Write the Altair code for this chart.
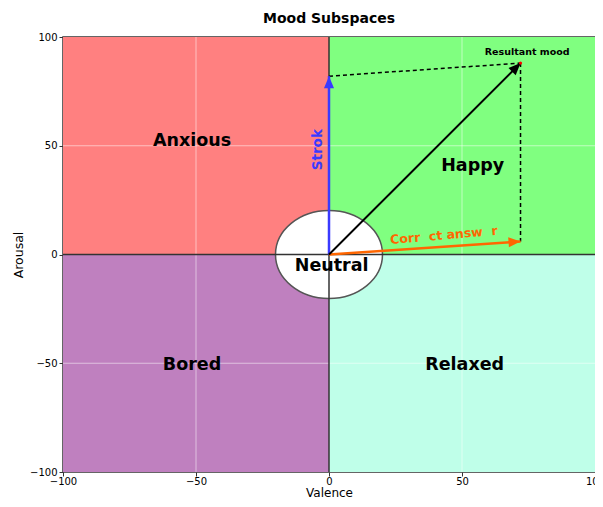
import altair as alt
import pandas as pd

# Quadrants
quad_names = ["Anxious", "Happy", "Bored", "Relaxed"]
quad_x = [-100, 0, -100, 0]
quad_x2 = [0, 100, 0, 100]
quad_y = [0, 0, -100, -100]
quad_y2 = [100, 100, 0, 0]
quad_colors = ["#ff8080", "#80ff80", "#bf80bf", "#bfffe9"]

# Labels
label_text = ["Anxious", "Happy", "Bored", "Relaxed", "Neutral"]
label_x = [-51.5, 54, -51.5, 51, 1]
label_y = [52, 40.5, -51, -51, -5.5]

# Vectors
vec_names = ["Strok", "Correct answer", "Resultant"]
vec_x2 = [0, 72, 72]
vec_y2 = [82, 6, 88]
vec_colors = ["#3a3aff", "#ff6600", "#000000"]
vec_widths = [2.5, 2.5, 2]
vec_angles = [0, 86, 44.7]

# Dashed guides
dash_x = [0, 72]
dash_y = [82, 88]
dash_x2 = [72, 72]
dash_y2 = [88, 6]

grid_vals = [-50, 50]

X = alt.Scale(domain=[-100, 100], nice=False, zero=False)
Y = alt.Scale(domain=[-100, 100], nice=False, zero=False)

lab_expr = "replace(datum.label, '-', '\u2212')"
xaxis = alt.Axis(values=[-100, -50, 0, 50, 100], grid=False, domain=False, labelExpr=lab_expr,
                 tickColor="#333", tickSize=4, labelColor="#000", labelFontSize=10,
                 labelFont="DejaVu Sans", titleFont="DejaVu Sans", titleFontSize=12,
                 titleFontWeight="normal", titleColor="#000", labelPadding=0,
                 titleBaseline="alphabetic", titleY=24, labelFlush=False)
yaxis = alt.Axis(values=[-100, -50, 0, 50, 100], grid=False, domain=False, labelExpr=lab_expr,
                 tickColor="#333", tickSize=4, labelColor="#000", labelFontSize=10,
                 labelFont="DejaVu Sans", titleFont="DejaVu Sans", titleFontSize=12.5,
                 titleFontWeight="normal", titleColor="#000", labelPadding=2,
                 titleBaseline="alphabetic", titleX=-41, labelFlush=False)

qdf = pd.DataFrame({"name": quad_names, "x": quad_x, "x2": quad_x2, "y": quad_y,
                    "y2": quad_y2, "c": quad_colors})
quads = alt.Chart(qdf).mark_rect(strokeWidth=0).encode(
    x=alt.X("x:Q", scale=X, axis=xaxis, title="Valence"),
    x2="x2:Q",
    y=alt.Y("y:Q", scale=Y, axis=yaxis, title="Arousal"),
    y2="y2:Q",
    color=alt.Color("c:N", scale=None),
)

gdf = pd.DataFrame({"v": grid_vals})
gridx = alt.Chart(gdf).mark_rule(color="white", opacity=0.5, strokeWidth=1).encode(
    x=alt.X("v:Q", scale=X))
gridy = alt.Chart(gdf).mark_rule(color="white", opacity=0.5, strokeWidth=1).encode(
    y=alt.Y("v:Q", scale=Y))

ell = alt.Chart(pd.DataFrame({"x": [0], "y": [0]})).mark_point(
    shape="M-1,0A1,0.822,0,1,0,1,0A1,0.822,0,1,0,-1,0Z",
    size=11449, filled=True, fill="white", stroke="#555", strokeWidth=1.5, opacity=1,
).encode(x=alt.X("x:Q", scale=X), y=alt.Y("y:Q", scale=Y))

center = pd.DataFrame({"x": [0, -100], "x2": [0, 100], "y": [-100, 0], "y2": [100, 0]})
centers = alt.Chart(center).mark_rule(color="#333", strokeWidth=1.5).encode(
    x=alt.X("x:Q", scale=X), x2="x2:Q", y=alt.Y("y:Q", scale=Y), y2="y2:Q")

ddf = pd.DataFrame({"x": dash_x, "y": dash_y, "x2": dash_x2, "y2": dash_y2})
dashes = alt.Chart(ddf).mark_rule(color="black", strokeWidth=1.5, strokeDash=[4, 3]).encode(
    x=alt.X("x:Q", scale=X), x2="x2:Q", y=alt.Y("y:Q", scale=Y), y2="y2:Q")

vdf = pd.DataFrame({"name": vec_names, "x": [0, 0, 0], "y": [0, 0, 0], "x2": vec_x2,
                    "y2": vec_y2, "c": vec_colors, "a": vec_angles, "w": vec_widths})
vecs = alt.Chart(vdf).mark_rule().encode(
    x=alt.X("x:Q", scale=X), x2="x2:Q", y=alt.Y("y:Q", scale=Y), y2="y2:Q",
    color=alt.Color("c:N", scale=None),
    strokeWidth=alt.StrokeWidth("w:Q", scale=None))
heads = alt.Chart(vdf).mark_point(
    shape="M0,0L-0.42,1L0.42,1Z", size=576, filled=True, opacity=1, strokeWidth=0
).encode(
    x=alt.X("x2:Q", scale=X), y=alt.Y("y2:Q", scale=Y),
    color=alt.Color("c:N", scale=None), angle=alt.Angle("a:Q", scale=None))

tip = alt.Chart(pd.DataFrame({"x": [72], "y": [88]})).mark_point(
    shape="circle", size=10, filled=True, color="red", opacity=1).encode(
    x=alt.X("x:Q", scale=X), y=alt.Y("y:Q", scale=Y))

ldf = pd.DataFrame({"t": label_text, "x": label_x, "y": label_y})
labels = alt.Chart(ldf).mark_text(fontSize=17.5, fontWeight="bold", font="DejaVu Sans",
                                  color="black").encode(
    x=alt.X("x:Q", scale=X), y=alt.Y("y:Q", scale=Y), text="t:N")

res = alt.Chart(pd.DataFrame({"t": ["Resultant mood"], "x": [74.5], "y": [93]})).mark_text(
    fontSize=9.5, fontWeight="bold", font="DejaVu Sans", color="black").encode(
    x=alt.X("x:Q", scale=X), y=alt.Y("y:Q", scale=Y), text="t:N")

strok = alt.Chart(pd.DataFrame({"t": ["Strok"], "x": [-4.3], "y": [48.2]})).mark_text(
    fontSize=13.5, fontWeight="bold", font="DejaVu Sans", color="#3a3aff", angle=270).encode(
    x=alt.X("x:Q", scale=X), y=alt.Y("y:Q", scale=Y), text="t:N")

corr = alt.Chart(pd.DataFrame({"t": ["Corr\u00a0\u00a0ct answ\u00a0\u00a0r"], "x": [43.2], "y": [8.8]})).mark_text(
    fontSize=12.5, fontWeight="bold", font="DejaVu Sans", color="#ff6600", angle=355).encode(
    x=alt.X("x:Q", scale=X), y=alt.Y("y:Q", scale=Y), text="t:N")

chart = alt.layer(quads, gridx, gridy, ell, centers, dashes, vecs, heads, tip, labels, res,
                  strok, corr).properties(
    width=532, height=435,
    title=alt.TitleParams("Mood Subspaces", font="DejaVu Sans", fontSize=14,
                          fontWeight="bold", color="black", offset=6),
    autosize=alt.AutoSizeParams(type="none"),
    padding={"left": 55, "top": 29, "right": 0, "bottom": 27},
).configure_view(stroke="#333", strokeWidth=1.5)

chart.save("out.html", embed_options={"renderer": "svg", "actions": False})
